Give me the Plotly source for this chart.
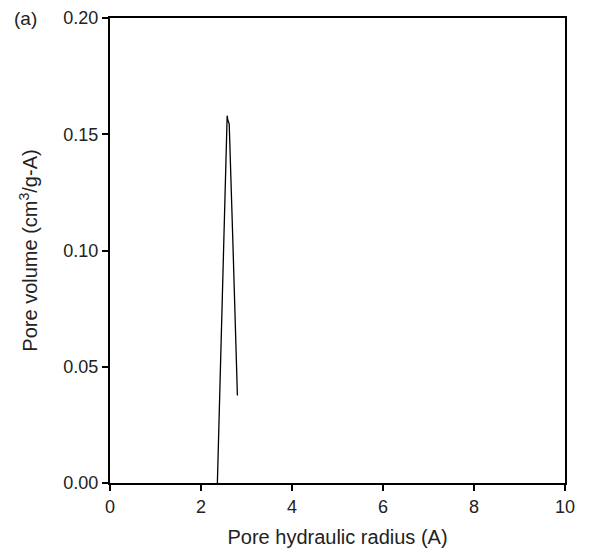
import plotly.graph_objects as go

radius = [2.36, 2.50, 2.575, 2.59, 2.62, 2.70, 2.80]
volume = [0.000, 0.110, 0.158, 0.156, 0.1545, 0.104, 0.0376]

x_ticks = [0, 2, 4, 6, 8, 10]
y_ticks = [0.00, 0.05, 0.10, 0.15, 0.20]
y_tick_text = ["0.00", "0.05", "0.10", "0.15", "0.20"]

font = "Liberation Sans, Arial, sans-serif"

fig = go.Figure()
fig.add_trace(go.Scatter(x=radius, y=volume, mode="lines",
                         line=dict(color="black", width=1.3), showlegend=False))

fig.update_layout(
    width=582, height=543,
    margin=dict(l=102, r=25, t=10, b=68, autoexpand=False),
    paper_bgcolor="white", plot_bgcolor="white",
    font=dict(family=font, size=18, color="#222222"),
    xaxis=dict(range=[0, 10], tickvals=x_ticks, ticks="outside", ticklen=6,
               tickcolor="black", tickwidth=1.5, showline=True, linecolor="black",
               linewidth=2, mirror=True, showgrid=False, zeroline=False,
               tickfont=dict(size=18),
               title=dict(text="Pore hydraulic radius (A)", font=dict(size=20), standoff=14)),
    yaxis=dict(range=[0, 0.2], tickvals=y_ticks, ticktext=y_tick_text, ticks="outside",
               ticklen=6, tickcolor="black", tickwidth=1.5, showline=True,
               linecolor="black", linewidth=2, mirror=True, showgrid=False,
               zeroline=False, tickfont=dict(size=18),
               title=dict(text="Pore volume (cm<sup>3</sup>/g-A)", font=dict(size=20), standoff=20)),
    annotations=[dict(text="(a)", x=-0.215, y=1.0, xref="paper", yref="paper",
                      xanchor="left", yanchor="middle", showarrow=False,
                      font=dict(size=19))],
)
fig.write_html("out.html")
